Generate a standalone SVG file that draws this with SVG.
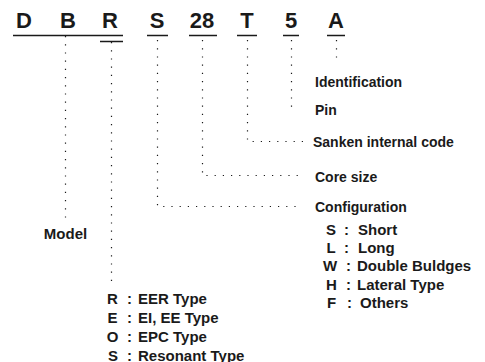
<svg xmlns="http://www.w3.org/2000/svg" width="485" height="362" viewBox="0 0 485 362">
<style>
text{font-family:"Liberation Sans",Arial,Helvetica,sans-serif;font-weight:bold;fill:#1a1a1a}
.code{font-size:22px;text-anchor:middle}
.lbl{font-size:14px}
.lst{font-size:15px}
.mid{text-anchor:middle}
.ul{stroke:#1a1a1a;stroke-width:1.3;fill:none}
.dot{stroke:#1a1a1a;stroke-width:1.2;fill:none;stroke-dasharray:1.2 7}
</style>
<rect width="485" height="362" fill="#fff"/>
<g id="code">
<text class="code" x="24" y="28">D</text>
<text class="code" x="68" y="28">B</text>
<text class="code" x="110" y="28">R</text>
<text class="code" x="157" y="28">S</text>
<text class="code" x="202" y="28">28</text>
<text class="code" x="247" y="28">T</text>
<text class="code" x="291" y="28">5</text>
<text class="code" x="336" y="28">A</text>
<path class="ul" d="M13 35.5H123M100 41.5H123M147 35.5H168M189 35.5H217M237 35.5H257M283 35.5H299M327 35.5H345"/>
</g>
<g id="connectors">
<path class="dot" d="M65.5 36V222"/>
<path class="dot" d="M111.5 42V286"/>
<path class="dot" d="M157.5 40V206.5H300"/>
<path class="dot" d="M202.5 40V175.5H300"/>
<path class="dot" d="M247.5 40V141.5H304"/>
<path class="dot" d="M291.5 40V107L297 111"/>
<path class="dot" d="M336.5 40V62"/>
</g>
<g id="identification"><text class="lbl" x="315" y="87">Identification</text></g>
<g id="pin"><text class="lbl" x="315" y="115">Pin</text></g>
<g id="sanken"><text class="lbl" x="313" y="147">Sanken internal code</text></g>
<g id="coresize"><text class="lbl" x="315" y="182">Core size</text></g>
<g id="configuration">
<text class="lbl" x="315" y="212">Configuration</text>
<text class="lst mid" x="331" y="235">S</text><text class="lst" x="344" y="235">:</text><text class="lst" x="358" y="235">Short</text>
<text class="lst mid" x="331" y="253">L</text><text class="lst" x="344" y="253">:</text><text class="lst" x="358" y="253">Long</text>
<text class="lst mid" x="330" y="271">W</text><text class="lst" x="346" y="271">:</text><text class="lst" x="357" y="271">Double Buldges</text>
<text class="lst mid" x="331.5" y="290">H</text><text class="lst" x="346" y="290">:</text><text class="lst" x="357" y="290">Lateral Type</text>
<text class="lst mid" x="331.5" y="308">F</text><text class="lst" x="347" y="308">:</text><text class="lst" x="360" y="308">Others</text>
</g>
<g id="model"><text class="lst mid" x="65.5" y="239">Model</text></g>
<g id="coretype">
<text class="lst mid" x="112.5" y="304">R</text><text class="lst" x="127" y="304">:</text><text class="lst" x="138" y="304">EER Type</text>
<text class="lst mid" x="112.5" y="323">E</text><text class="lst" x="127" y="323">:</text><text class="lst" x="138" y="323">EI, EE Type</text>
<text class="lst mid" x="112.5" y="342">O</text><text class="lst" x="127" y="342">:</text><text class="lst" x="138" y="342">EPC Type</text>
<text class="lst mid" x="113" y="360.5">S</text><text class="lst" x="127" y="360.5">:</text><text class="lst" x="138" y="360.5">Resonant Type</text>
</g>
</svg>
